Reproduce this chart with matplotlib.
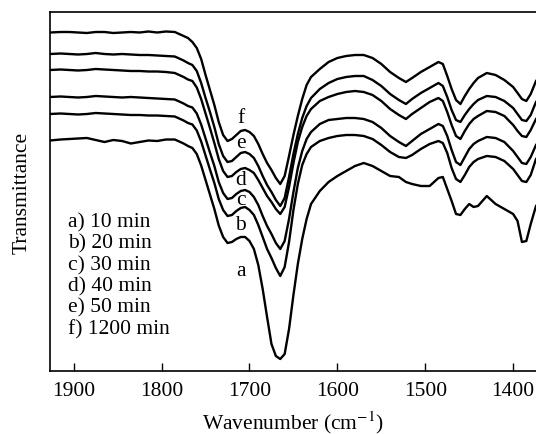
import numpy as np
import matplotlib
matplotlib.use('Agg')
import matplotlib.pyplot as plt

plt.rcParams['font.family'] = ['Liberation Serif', 'DejaVu Serif']
plt.rcParams['mathtext.fontset'] = 'stix'

# wavenumber grid (cm-1)
wavenumber = [1927, 1915, 1905, 1895, 1885, 1875, 1865, 1855, 1845, 1835, 1825, 1815, 1805, 1795, 1785,
              1780, 1775, 1770, 1765, 1760, 1755, 1750, 1745, 1740, 1735, 1730, 1725, 1720, 1715, 1710,
              1705, 1700, 1695, 1690, 1685, 1680, 1675, 1670, 1665, 1660, 1655, 1650, 1645, 1640, 1635, 1630,
              1620, 1610, 1600, 1590, 1580, 1570, 1560, 1550, 1540, 1530,
              1522, 1515, 1505, 1495, 1485, 1480, 1475, 1470, 1465, 1460, 1455, 1450, 1445, 1440,
              1430, 1420, 1410, 1400, 1395, 1390, 1385, 1380, 1374]

# transmittance, read as depth below the top of the frame (larger = lower on the chart)
spec_f = [33.5, 33, 33, 33.5, 34, 33, 33, 34, 33.5, 33, 33.5, 32.5, 33.5, 32.5, 33,
          35, 37, 39, 43, 49, 60, 76, 91, 106, 123, 136, 142, 140, 136, 132,
          131, 133, 137, 145, 155, 164, 171, 179, 185, 177, 157, 136, 117, 100, 86, 78,
          70, 63, 59, 57, 56, 56, 59, 65, 73, 79,
          83, 79, 73, 68, 63, 65, 77, 90, 101, 105, 97, 90, 84, 79,
          74, 76, 81, 88, 94, 100, 102, 95, 82]
spec_e = [55, 54.5, 55, 55.5, 55, 54, 55, 55.5, 55, 55.5, 56, 56, 56.5, 57, 57.5,
          59.5, 61.5, 64, 66, 72, 84, 99, 113, 128, 145, 157, 163, 162, 158, 154,
          153, 155, 159, 167, 177, 186, 193, 201, 207, 199, 178, 155, 135, 119, 107, 99,
          90, 84, 80, 78, 77, 77, 81, 87, 95, 101,
          105, 100, 94, 89, 84, 87, 98, 111, 121, 123, 116, 110, 105, 101,
          97, 98, 102, 109, 115, 121, 122, 116, 103]
spec_d = [71, 70.5, 71, 71.5, 71, 70, 70.5, 71, 71.5, 72, 72, 72.5, 72.5, 73, 74,
          76, 78, 80.5, 82, 88.5, 100, 114.5, 129, 144, 160, 172, 178, 177, 173, 170,
          169, 171, 174, 181, 189, 197, 203, 210, 215, 208, 188, 164, 143, 128, 117, 110,
          102, 98, 95, 93, 92, 93, 96, 102, 110, 116,
          120, 115, 109, 103, 99, 102, 113, 126, 137, 140, 132, 125, 120, 117,
          112, 113, 117, 126, 132, 137, 138, 131, 120]
spec_c = [98, 97.5, 98, 98.5, 98, 97, 97.5, 98, 98.5, 98, 98.5, 99, 99.5, 100, 100.5,
          102.5, 104.5, 107, 108.5, 114.5, 125.5, 139.5, 153.5, 167, 183, 194, 200, 199, 195, 192,
          191, 193, 198, 206, 217, 227, 235, 244, 250, 242, 220, 193, 169, 152, 140, 133,
          125, 121, 120, 119, 119, 120, 123, 129, 137, 143,
          147, 142, 135, 130, 125, 127, 137, 151, 163, 166, 158, 150, 145, 142,
          138, 139, 143, 152, 158, 164, 165, 158, 146]
spec_b = [115, 114.5, 115, 115.5, 115, 114, 114.5, 115, 115.5, 116, 116, 116.5, 116.5, 117, 117.5,
          119.5, 121.5, 124, 125.5, 131.5, 142.5, 156.5, 170.5, 184, 200, 211, 217, 216, 212, 209,
          208, 211, 216, 226, 238, 250, 259, 269, 277, 268, 243, 211, 185, 166, 155, 148,
          142, 139, 137, 136, 136, 137, 140, 146, 153, 158,
          159, 156, 150, 145, 142, 144, 154, 169, 180, 183, 176, 168, 163, 160,
          157, 158, 162, 170, 176, 182, 183, 176, 160]
spec_a = [141.5, 140.5, 140, 139.5, 139, 141, 143, 141, 142, 144.5, 143, 141.5, 142, 140.5, 140.5,
          142.5, 144.5, 147, 149, 155, 166.5, 181, 195.5, 210, 226.5, 238, 244, 243, 240, 238,
          238, 242, 250, 266, 290, 318, 345, 357, 360, 355, 330, 296, 265, 240, 220, 205,
          192, 183, 177, 172, 167, 164, 167, 172, 177, 178,
          183, 185, 187, 187, 179, 178, 190, 202, 215, 216, 210, 205, 208, 207,
          197, 205, 210, 215, 222, 243, 242, 225, 207]

legend_lines = ['a) 10 min', 'b) 20 min', 'c) 30 min', 'd) 40 min', 'e) 50 min', 'f) 1200 min']
curve_tags = ['f', 'e', 'd', 'c', 'b', 'a']
tag_y = [118, 143, 180, 200, 225, 272]

fig = plt.figure(figsize=(5.36, 4.35), dpi=100)
ax = fig.add_axes([50 / 536, 63 / 435, 486 / 536, 359 / 435])

for s in [spec_a, spec_b, spec_c, spec_d, spec_e, spec_f]:
    ax.plot(wavenumber, s, color='black', lw=1.7, solid_joinstyle='round')

ax.set_xlim(1927, 1374)
ax.set_ylim(372, 13)

for t, y in zip(curve_tags, tag_y):
    ax.text(1710, y, t, fontsize=15.5, ha='center', va='center')

for i, line in enumerate(legend_lines):
    ax.text(1906, 223 + i * 21.3, line, fontsize=15.5, ha='left', va='center')

ax.set_xticks([1900, 1800, 1700, 1600, 1500, 1400])
ax.tick_params(axis='x', direction='in', length=6, width=1, labelsize=15.5, pad=7)
ax.set_yticks([])
ax.spines['right'].set_visible(False)
for sp in ['left', 'top', 'bottom']:
    ax.spines[sp].set_linewidth(1.2)

ax.set_xlabel('Wavenumber (cm$^{-1}$)', fontsize=15.5, labelpad=6)
ax.set_ylabel('Transmittance', fontsize=15.5, labelpad=13)

fig.savefig('out.png', dpi=100)
